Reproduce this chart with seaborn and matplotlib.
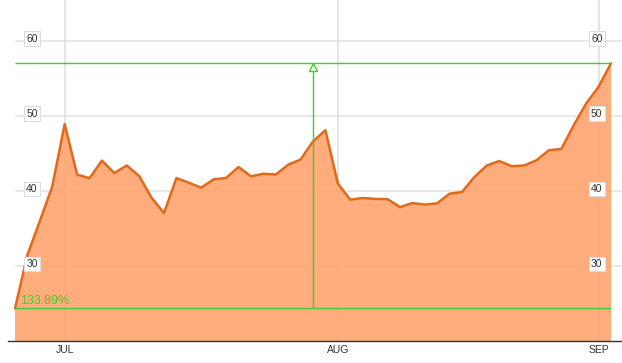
import numpy as np
import pandas as pd
import matplotlib
matplotlib.use("Agg")
import matplotlib.pyplot as plt
import matplotlib.transforms as mtransforms
import seaborn as sns

# trading-day closes, Jun 25 - Sep 3
prices = [24.37, 31.5, 36.0, 40.6, 48.9, 42.2, 41.7, 44.05, 42.4, 43.4,
          42.0, 39.1, 37.07, 41.73, 41.1, 40.45, 41.56, 41.73, 43.2, 41.96,
          42.3, 42.2, 43.5, 44.2, 46.6, 48.1, 41.0, 38.85, 39.07, 38.95,
          38.93, 37.87, 38.4, 38.2, 38.36, 39.65, 39.87, 41.87, 43.4, 44.0,
          43.3, 43.4, 44.1, 45.43, 45.6, 48.76, 51.65, 53.87, 57.0]
month_idx = [4, 26, 47]
month_labels = ["JUL", "AUG", "SEP"]
y_ticks = [30, 40, 50, 60]
change_label = "133.89%"
marker_idx = 24

df = pd.DataFrame({"day": np.arange(len(prices)), "price": prices})

sns.set_style("white")
fig = plt.figure(figsize=(6.22, 3.63), dpi=100)
ax = fig.add_axes([8 / 622, 21.7 / 363, 614 / 622, 341.3 / 363])

# grid
for t in y_ticks:
    ax.axhline(t, xmin=0.013, color="#e4e4e4", lw=1.2, zorder=0)
for m in month_idx:
    ax.axvline(m, color="#e0e0e0", lw=1.2, zorder=0)

ax.fill_between(df["day"], df["price"], 0, color="#ffa46e", alpha=0.9,
                lw=0, zorder=1)
sns.lineplot(data=df, x="day", y="price", ax=ax, color="#e2691c",
             lw=1.8, zorder=3)

# change measurement
green = "#3fcc2e"
start, end = prices[0], prices[-1]
ax.hlines([start, end], 0, len(prices) - 1, color=green, lw=1, zorder=4)
ax.vlines(marker_idx, start, end, color=green, lw=1, zorder=4)
ax.plot(marker_idx, end - 0.55, marker="^", ms=6, mfc="white", mec=green,
        mew=1, zorder=5)
ax.text(0.4, start + 0.6, change_label, color=green, fontsize=9,
        family="Liberation Sans", zorder=6)

# boxed axis labels on both sides
trans = mtransforms.blended_transform_factory(ax.transAxes, ax.transData)
for t in y_ticks:
    for xf in (0.039, 0.959):
        ax.text(xf, t + 0.3, str(t), transform=trans, ha="center",
                va="center", fontsize=7.5, color="#333333",
                family="Liberation Sans", zorder=6,
                bbox=dict(boxstyle="square,pad=0.22", fc="white",
                          ec="#dddddd", lw=0.8))

ax.set_xlim(-0.564, 48.886)
ax.set_ylim(20, 65.43)
ax.set_xticks(month_idx)
ax.set_xticklabels(month_labels, fontsize=7.5, color="#333333",
                   family="Liberation Sans")
ax.tick_params(axis="x", length=0, pad=3)
ax.set_yticks([])
ax.set_xlabel("")
ax.set_ylabel("")
for s in ["top", "left", "right"]:
    ax.spines[s].set_visible(False)
ax.spines["bottom"].set_color("#333333")
ax.spines["bottom"].set_linewidth(1)

fig.savefig("out.png", dpi=100)
